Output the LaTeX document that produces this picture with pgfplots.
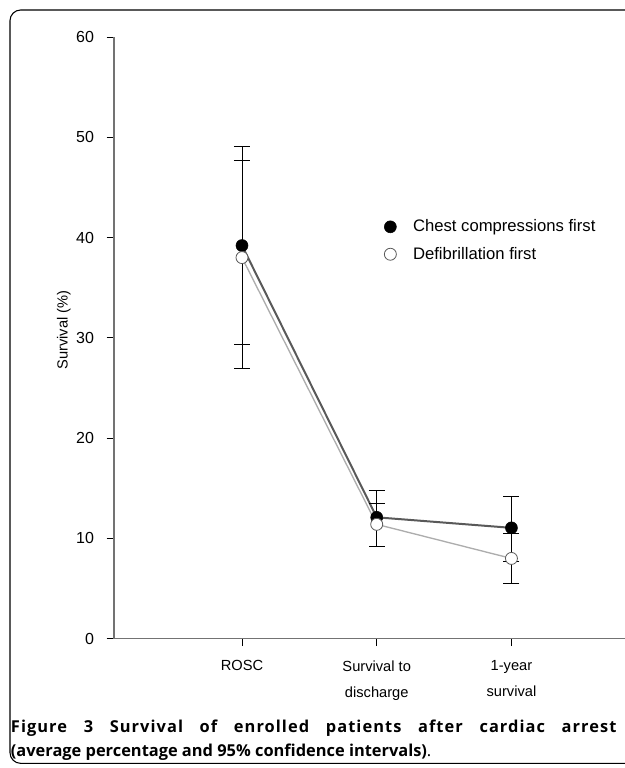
\documentclass[border=0pt]{standalone}
\usepackage{pgfplots}
\pgfplotsset{compat=1.18}
\usepackage{fontspec}
\setmainfont{Liberation Sans}
\newfontfamily\capfont{Open Sans}
\definecolor{chestline}{gray}{0.35}
\definecolor{defline}{gray}{0.68}
\definecolor{axisgray}{gray}{0.45}
\begin{document}
\begin{tikzpicture}
\path[use as bounding box] (0pt,0pt) rectangle (468.75pt,-576pt);
\draw[black, line width=0.8pt, rounded corners=8pt] (490pt,-7.5pt) -- (7.5pt,-7.5pt) -- (7.5pt,-572.5pt) -- (490pt,-572.5pt);
\begin{axis}[
  at={(85.5pt,-479pt)}, anchor=origin,
  scale only axis, width=387pt, height=451.3pt,
  xmin=0.05, xmax=3.88, ymin=0, ymax=60,
  axis lines=left, axis line style={axisgray, line width=0.9pt, -},
  clip=false,
  tick align=outside, major tick length=5.5pt,
  tick style={black, line width=0.6pt},
  xtick={1,2,3},
  xticklabels={ROSC, Survival to\\discharge, 1-year\\survival},
  xticklabel style={align=center, font=\fontsize{11}{19.5}\selectfont, yshift=-7.5pt},
  ytick={0,10,...,60},
  yticklabel style={font=\fontsize{12}{14}\selectfont, xshift=-6pt},
  /pgf/number format/assume math mode=true,
  ylabel={Survival (\%)},
  ylabel style={font=\fontsize{11}{13}\selectfont, at={(axis description cs:-0.097,0.513)}, anchor=center},
  legend style={draw=none, fill=none, at={(axis description cs:0.513,0.701)}, anchor=north west,
    font=\fontsize{12.5}{15}\selectfont, row sep=6pt, inner sep=0pt,
    nodes={inner sep=2pt}},
  legend cell align=left,
  legend image code/.code={\path[draw=none, fill=none] (0cm,0cm) rectangle (0.3cm+15pt,0.01cm); \draw[#1] plot coordinates {(0.3cm,0cm)};},
]
\addlegendimage{only marks, mark=*, mark size=4.5pt, mark options={fill=black, draw=black}}
\addlegendentry{Chest compressions first}
\addlegendimage{only marks, mark=*, mark size=4.5pt, mark options={fill=white, draw=gray!70!black, line width=0.6pt}}
\addlegendentry{Defibrillation first}
% Chest compressions first
\addplot[chestline, line width=1.5pt, mark=none, forget plot,
  error bars/.cd, y dir=both, y explicit,
  error bar style={black, line width=0.6pt},
  error mark options={black, rotate=90, mark size=6pt, line width=0.6pt}]
  table[x=x, y=y, y error plus=ep, y error minus=em] {
  x y ep em
  1 39.2 9.9 9.9
  2 12.1 2.7 2.9
  3 11.05 3.15 3.35
};
% Defibrillation first
\addplot[defline, line width=1.0pt, mark=none, forget plot,
  error bars/.cd, y dir=both, y explicit,
  error bar style={black, line width=0.6pt},
  error mark options={black, rotate=90, mark size=6pt, line width=0.6pt}]
  table[x=x, y=y, y error plus=ep, y error minus=em] {
  x y ep em
  1 38.0 9.7 11.1
  2 11.4 2.1 2.2
  3 8.0 2.45 2.5
};
\addplot[only marks, mark=*, mark size=4.5pt, mark options={fill=black, draw=black}, forget plot]
  table[x=x, y=y] {
  x y
  1 39.2
  2 12.1
  3 11.05
};
\addplot[only marks, mark=*, mark size=4.5pt, mark options={fill=white, draw=gray!70!black, line width=0.6pt}, forget plot]
  table[x=x, y=y] {
  x y
  1 38.0
  2 11.4
  3 8.0
};
\end{axis}
\node[anchor=north west, inner sep=0pt, text width=455pt, align=justify,
  font=\capfont\fontsize{12.3}{18}\selectfont] at (8pt,-540pt)
  {{\bfseries\addfontfeatures{LetterSpace=6.5}Figure 3 Survival of enrolled patients after cardiac arrest}\linebreak
   \textbf{(average percentage and 95\% confidence intervals)}.};
\end{tikzpicture}
\end{document}
